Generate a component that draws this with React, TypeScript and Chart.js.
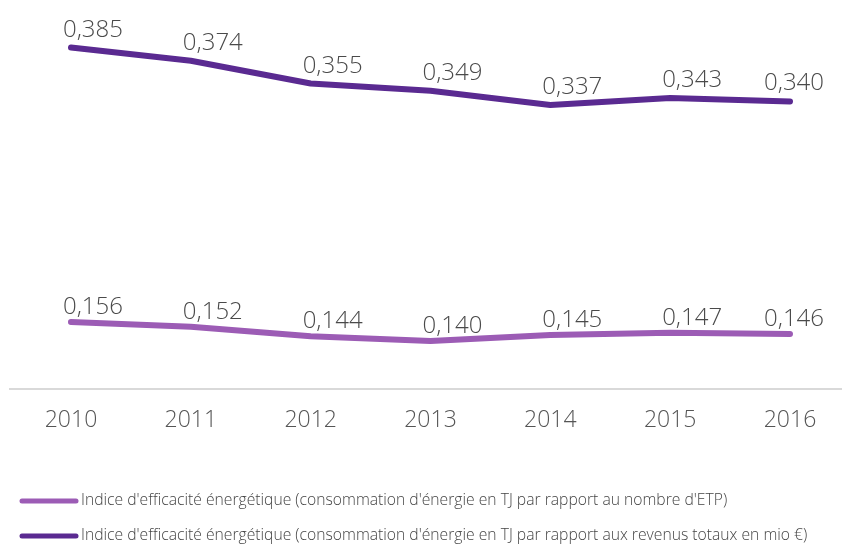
import React, { useEffect, useRef } from "react";
import { Chart, registerables } from "chart.js";

Chart.register(...registerables);

const years = ["2010", "2011", "2012", "2013", "2014", "2015", "2016"];
const etpValues = [0.156, 0.152, 0.144, 0.14, 0.145, 0.147, 0.146];
const revenueValues = [0.385, 0.374, 0.355, 0.349, 0.337, 0.343, 0.34];
const seriesLabels = [
  "Indice d'efficacité énergétique (consommation d'énergie en TJ par rapport au nombre d'ETP)",
  "Indice d'efficacité énergétique (consommation d'énergie en TJ par rapport aux revenus totaux en mio €)",
];
const seriesColors = ["#9c5cb5", "#5a2a91"];
const labelOffsets = [8, 11];

const FONT = "'Open Sans', 'Noto Sans', sans-serif";

const fmt = (v: number) => v.toFixed(3).replace(".", ",");

const valueLabels = {
  id: "valueLabels",
  afterDatasetsDraw(chart: any) {
    const ctx = chart.ctx;
    ctx.save();
    ctx.font = `300 24px ${FONT}`;
    ctx.fillStyle = "#4a4a4a";
    ctx.textBaseline = "alphabetic";
    chart.data.datasets.forEach((ds: any, di: number) => {
      const meta = chart.getDatasetMeta(di);
      meta.data.forEach((pt: any, i: number) => {
        const last = i === meta.data.length - 1;
        ctx.textAlign = last ? "center" : "left";
        const x = last ? pt.x + 4 : pt.x - 8;
        ctx.fillText(fmt(ds.data[i]), x, pt.y - labelOffsets[di]);
      });
    });
    ctx.restore();
  },
};

const axisLine = {
  id: "axisLine",
  beforeDatasetsDraw(chart: any) {
    const ctx = chart.ctx;
    const y = chart.chartArea.bottom;
    ctx.save();
    ctx.strokeStyle = "#d9d9d9";
    ctx.lineWidth = 2;
    ctx.beginPath();
    ctx.moveTo(9, y);
    ctx.lineTo(chart.width, y);
    ctx.stroke();
    ctx.restore();
  },
};

const customLegend = {
  id: "customLegend",
  afterDraw(chart: any) {
    const ctx = chart.ctx;
    ctx.save();
    ctx.font = `300 15.7px ${FONT}`;
    ctx.textBaseline = "middle";
    ctx.textAlign = "left";
    chart.data.datasets.forEach((ds: any, i: number) => {
      const y = 501 + i * 35;
      ctx.strokeStyle = ds.borderColor;
      ctx.lineWidth = 5;
      ctx.lineCap = "round";
      ctx.beginPath();
      ctx.moveTo(22, y);
      ctx.lineTo(76, y);
      ctx.stroke();
      ctx.fillStyle = "#444444";
      ctx.fillText(ds.label, 81, y);
    });
    ctx.restore();
  },
};

export default function App() {
  const ref = useRef<HTMLCanvasElement>(null);
  useEffect(() => {
    if (!ref.current) return;
    const chart = new Chart(ref.current, {
      type: "line",
      data: {
        labels: years,
        datasets: [
          {
            label: seriesLabels[0],
            data: etpValues,
            borderColor: seriesColors[0],
            backgroundColor: seriesColors[0],
            borderWidth: 6,
            borderCapStyle: "round",
            borderJoinStyle: "round",
            pointRadius: 0,
            tension: 0,
          },
          {
            label: seriesLabels[1],
            data: revenueValues,
            borderColor: seriesColors[1],
            backgroundColor: seriesColors[1],
            borderWidth: 6,
            borderCapStyle: "round",
            borderJoinStyle: "round",
            pointRadius: 0,
            tension: 0,
          },
        ],
      },
      options: {
        animation: false,
        responsive: false,
        layout: { padding: { left: 71, right: 52, top: 29.6, bottom: 99 } },
        plugins: { legend: { display: false }, tooltip: { enabled: false } },
        scales: {
          x: {
            offset: false,
            grid: { display: false, drawTicks: false },
            border: { display: false },
            ticks: {
              padding: 18,
              color: "#555555",
              font: { family: FONT, size: 23, weight: "300" },
              maxRotation: 0,
              autoSkip: false,
            },
            afterFit: (s: any) => {
              s.height = 60;
            },
          },
          y: { display: false, min: 0.1, max: 0.4 },
        },
      },
      plugins: [axisLine, valueLabels, customLegend],
    });
    return () => chart.destroy();
  }, []);
  return (
    <div style={{ position: "absolute", left: 0, top: 0, width: 842, height: 548, background: "#fff" }}>
      <canvas ref={ref} width={842} height={548} style={{ width: 842, height: 548 }} />
    </div>
  );
}
